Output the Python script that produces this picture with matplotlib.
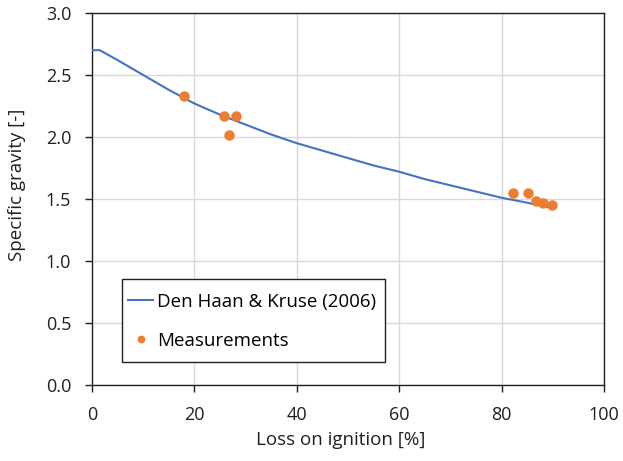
import matplotlib
matplotlib.use('Agg')
import matplotlib.pyplot as plt
from matplotlib.patches import Rectangle

# Den Haan & Kruse (2006) curve
loi_model = [0, 1.5, 5, 10, 15, 20, 25, 30, 35, 40, 45, 50, 55, 60, 65, 70, 75, 80, 85, 89.5]
gs_model = [2.70, 2.70, 2.62, 2.50, 2.38, 2.27, 2.18, 2.10, 2.02, 1.95, 1.89, 1.83, 1.77, 1.72,
            1.66, 1.61, 1.56, 1.51, 1.47, 1.43]

# measurements
loi_meas = [17.9, 25.7, 28.1, 26.8, 82.2, 85.1, 86.7, 88.1, 89.8]
gs_meas = [2.33, 2.17, 2.17, 2.02, 1.55, 1.55, 1.48, 1.47, 1.45]

x_ticks = [0, 20, 40, 60, 80, 100]
y_ticks = [0.0, 0.5, 1.0, 1.5, 2.0, 2.5, 3.0]

plt.rcParams['font.family'] = ['Open Sans', 'DejaVu Sans']
plt.rcParams['font.size'] = 13.5
dark = '#202020'

fig = plt.figure(figsize=(6.23, 4.61), dpi=100)
ax = fig.add_axes([0.1477, 0.1649, 0.8218, 0.8069])

ax.plot(loi_model, gs_model, color='#4472C4', lw=1.5, label='Den Haan & Kruse (2006)', zorder=3)
ax.plot(loi_meas, gs_meas, 'o', color='#ED7D31', ms=6.5, label='Measurements', zorder=4)

ax.set_xlim(0, 100)
ax.set_ylim(0, 3.0)
ax.set_xticks(x_ticks)
ax.set_yticks(y_ticks)
ax.set_yticklabels(['{:.1f}'.format(v) for v in y_ticks])
ax.grid(True, color='#D9D9D9', lw=1.0)
ax.set_axisbelow(True)
for s in ax.spines.values():
    s.set_color(dark)
    s.set_linewidth(1.0)
ax.tick_params(direction='out', length=5, width=1, color=dark, labelcolor=dark,
               labelsize=13, pad=10)

ax.set_xlabel('Loss on ignition [%]', color=dark)
ax.set_ylabel('Specific gravity [-]', color=dark)
ax.xaxis.set_label_coords(0.485, -0.125)
ax.yaxis.set_label_coords(-0.128, 0.538)

# legend box drawn by hand so the padding matches
box = Rectangle((0.0586, 0.061), 0.514, 0.223, transform=ax.transAxes,
                facecolor='white', edgecolor=dark, lw=1.0, zorder=5)
ax.add_patch(box)
leg = ax.legend(loc='center left', bbox_to_anchor=(0.071, 0.171), borderaxespad=0,
                frameon=False, handlelength=1.33, handletextpad=0.2, labelspacing=1.1,
                borderpad=0, markerscale=0.7)
leg.set_zorder(6)

fig.savefig('out.png', dpi=100)
